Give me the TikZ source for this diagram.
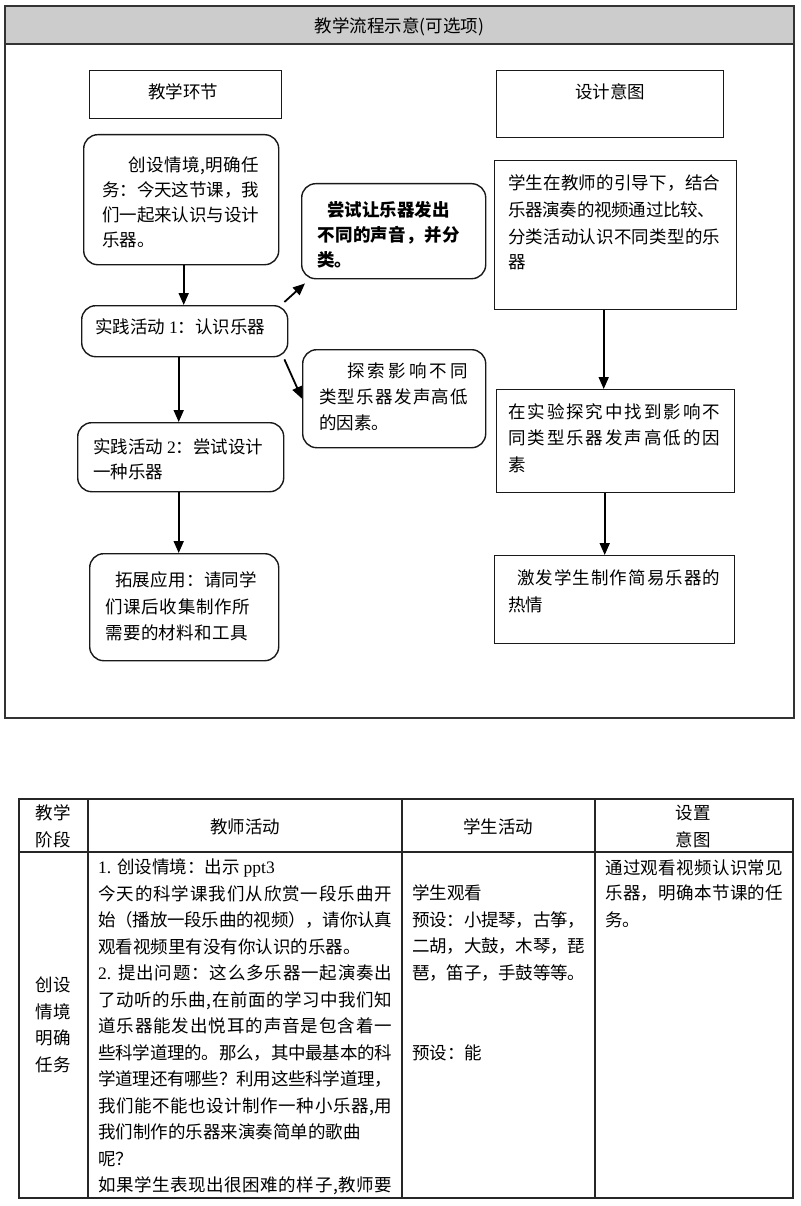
\documentclass[tikz,border=0pt]{standalone}
\usepackage{fontspec}
\setmainfont{Noto Sans CJK SC}
\newfontfamily\lat{Liberation Serif}
\usetikzlibrary{arrows.meta}
\makeatletter
\def\jl@#1#2\@nil{#1\ifx\relax#2\relax\else\hskip0pt plus 1fil minus 1.5pt\relax\jl@#2\@nil\fi}
\newcommand\jl[2]{\hbox to #1{\jl@#2\@nil}}
\makeatother
\begin{document}
\begin{tikzpicture}[x=1pt,y=-1pt,
  every node/.style={font=\fontsize{17.5pt}{21pt}\selectfont},
  ln/.style={anchor=west,inner sep=0pt,text height=15pt,text depth=2pt},
  cl/.style={anchor=center,inner sep=0pt,text height=15pt,text depth=2pt},
  rbox/.style={draw=black!90,line width=1.4pt,rounded corners=14pt,anchor=north west,inner sep=0pt},
  sbox/.style={draw=black!90,line width=1.4pt,anchor=north west,inner sep=0pt},
  arr/.style={line width=1.8pt,-{Triangle[length=12pt,width=10pt]}},
  frame/.style={line width=1.6pt,draw=black!80},
  tab/.style={line width=1.3pt,draw=black!85},
]
\useasboundingbox (0,0) rectangle (800,1206);
% ---------- flow frame ----------
\fill[gray!40] (5,6) rectangle (794,44);
\draw[frame] (5,6) rectangle (794,718);
\draw[frame] (5,44) -- (794,44);
\node[cl] (title) at (399.5,26) {教学流程示意(可选项)};

% ---------- boxes ----------
\node[sbox,minimum width=192pt,minimum height=48pt] (t1) at (89,70) {};
\node[cl] (t1t) at (183,92) {教学环节};
\node[sbox,minimum width=227pt,minimum height=67pt] (t2) at (496,70) {};
\node[cl] (t2t) at (610,92) {设计意图};

\node[rbox,minimum width=195pt,minimum height=130pt] (b1) at (83,134) {};
\node[rbox,minimum width=206pt,minimum height=51pt] (p1) at (81,305) {};
\node[rbox,minimum width=206pt,minimum height=69pt] (p2) at (77,422) {};
\node[rbox,minimum width=189pt,minimum height=107pt] (b4) at (89,553) {};
\node[rbox,minimum width=184pt,minimum height=95pt] (m1) at (301,183) {};
\node[rbox,minimum width=183pt,minimum height=98pt] (m2) at (302,349) {};
\node[sbox,minimum width=242pt,minimum height=149pt] (r1) at (494,160) {};
\node[sbox,minimum width=238pt,minimum height=103pt] (r2) at (496,389) {};
\node[sbox,minimum width=240pt,minimum height=88pt] (r3) at (494,555) {};

% ---------- box texts ----------
\node[ln] (b1a) at (128,165) {\jl{131pt}{创设情境,明确任}};
\node[ln] (b1b) at (102,190) {\jl{157pt}{务：今天这节课，我}};
\node[ln] (b1c) at (102,215) {\jl{157pt}{们一起来认识与设计}};
\node[ln] (b1d) at (102,240) {乐器。};

\node[ln] (p1a) at (95,327) {实践活动 {\lat 1}：认识乐器};
\node[ln] (p2a) at (93,447) {实践活动 {\lat 2}：尝试设计};
\node[ln] (p2b) at (93,472) {一种乐器};

\node[ln] (b4a) at (115,580) {\jl{142pt}{拓展应用：请同学}};
\node[ln] (b4b) at (105,607) {\jl{145pt}{们课后收集制作所}};
\node[ln] (b4c) at (105,633) {\jl{143pt}{需要的材料和工具}};

\node[ln,font=\fontsize{17.5pt}{21pt}\selectfont\bfseries] (m1a) at (327,210) {尝试让乐器发出};
\node[ln,font=\fontsize{17.5pt}{21pt}\selectfont\bfseries] (m1b) at (317,235) {\jl{143pt}{不同的声音，并分}};
\node[ln,font=\fontsize{17.5pt}{21pt}\selectfont\bfseries] (m1c) at (317,260) {类。};

\node[ln] (m2a) at (347,371) {\jl{121pt}{探索影响不同}};
\node[ln] (m2b) at (319,397) {\jl{149pt}{类型乐器发声高低}};
\node[ln] (m2c) at (319,423) {的因素。};

\node[ln] (r1a) at (508,183) {\jl{212pt}{学生在教师的引导下，结合}};
\node[ln] (r1b) at (508,210) {\jl{207pt}{乐器演奏的视频通过比较、}};
\node[ln] (r1c) at (508,237) {\jl{212pt}{分类活动认识不同类型的乐}};
\node[ln] (r1d) at (508,262) {器};

\node[ln] (r2a) at (508,412) {\jl{212pt}{在实验探究中找到影响不}};
\node[ln] (r2b) at (508,438) {\jl{212pt}{同类型乐器发声高低的因}};
\node[ln] (r2c) at (508,465) {素};

\node[ln] (r3a) at (517,578) {\jl{203pt}{激发学生制作简易乐器的}};
\node[ln] (r3b) at (508,605) {热情};

% ---------- connectors ----------
\draw[arr] ([xshift=2.5pt]b1.south) -- ([xshift=2.5pt]b1.south |- p1.north);
\draw[arr] ([xshift=-6pt]p1.south) -- ([xshift=-6pt]p1.south |- p2.north);
\draw[arr] ([xshift=-2pt]p2.south) -- ([xshift=-2pt]p2.south |- b4.north);
\draw[arr] ([xshift=-4pt,yshift=3pt]p1.north east) -- ([xshift=4pt,yshift=-4pt]m1.south west);
\draw[arr] ([xshift=-4pt,yshift=-2pt]p1.south east) -- (m2.west);
\draw[arr] ([xshift=-12pt]r1.south) -- ([xshift=-12pt]r1.south |- r2.north);
\draw[arr] ([xshift=-11pt]r2.south) -- ([xshift=-11pt]r2.south |- r3.north);

% ---------- table ----------
\draw[tab] (19,799) rectangle (793,1198);
\draw[tab] (19,852) -- (793,852);
\draw[tab] (88,799) -- (88,1198);
\draw[tab] (402,799) -- (402,1198);
\draw[tab] (595,799) -- (595,1198);

\node[cl] (h1a) at (53,813) {教学};
\node[cl] (h1b) at (53,840) {阶段};
\node[cl] (h2) at (245,827) {教师活动};
\node[cl] (h3) at (498,827) {学生活动};
\node[cl] (h4a) at (693,813) {设置};
\node[cl] (h4b) at (693,840) {意图};

\node[cl] (s1) at (53,985) {创设};
\node[cl] (s2) at (53,1012) {情境};
\node[cl] (s3) at (53,1038) {明确};
\node[cl] (s4) at (53,1065) {任务};

\node[ln] (ta1) at (98,867) {{\lat 1.}\hspace{6pt}创设情境：出示 {\lat ppt3}};
\node[ln] (ta2) at (98,893.5) {\jl{294pt}{今天的科学课我们从欣赏一段乐曲开}};
\node[ln] (ta3) at (98,920) {\jl{294pt}{始（播放一段乐曲的视频），请你认真}};
\node[ln] (ta4) at (98,946.5) {观看视频里有没有你认识的乐器。};
\node[ln] (ta5) at (98,973) {\jl{294pt}{{{\lat 2.}\hspace{6pt}}提出问题：这么多乐器一起演奏出}};
\node[ln] (ta6) at (98,999.5) {\jl{294pt}{了动听的乐曲,在前面的学习中我们知}};
\node[ln] (ta7) at (98,1026) {\jl{294pt}{道乐器能发出悦耳的声音是包含着一}};
\node[ln] (ta8) at (98,1052.5) {\jl{294pt}{些科学道理的。那么，其中最基本的科}};
\node[ln] (ta9) at (98,1079) {\jl{294pt}{学道理还有哪些？利用这些科学道理，}};
\node[ln] (ta10) at (98,1105.5) {\jl{294pt}{我们能不能也设计制作一种小乐器,用}};
\node[ln] (ta11) at (98,1132) {我们制作的乐器来演奏简单的歌曲};
\node[ln] (ta12) at (98,1158.5) {呢？};
\node[ln] (ta13) at (98,1185) {\jl{294pt}{如果学生表现出很困难的样子,教师要}};

\node[ln] (sa1) at (412,893) {学生观看};
\node[ln] (sa2) at (412,920) {\jl{173pt}{预设：小提琴，古筝，}};
\node[ln] (sa3) at (412,946) {\jl{173pt}{二胡，大鼓，木琴，琵}};
\node[ln] (sa4) at (412,973) {\jl{173pt}{琶，笛子，手鼓等等。}};
\node[ln] (sa5) at (412,1053) {预设：能};

\node[ln] (da1) at (605,868) {\jl{178pt}{通过观看视频认识常见}};
\node[ln] (da2) at (605,893) {\jl{178pt}{乐器，明确本节课的任}};
\node[ln] (da3) at (605,920) {务。};
\end{tikzpicture}
\end{document}
